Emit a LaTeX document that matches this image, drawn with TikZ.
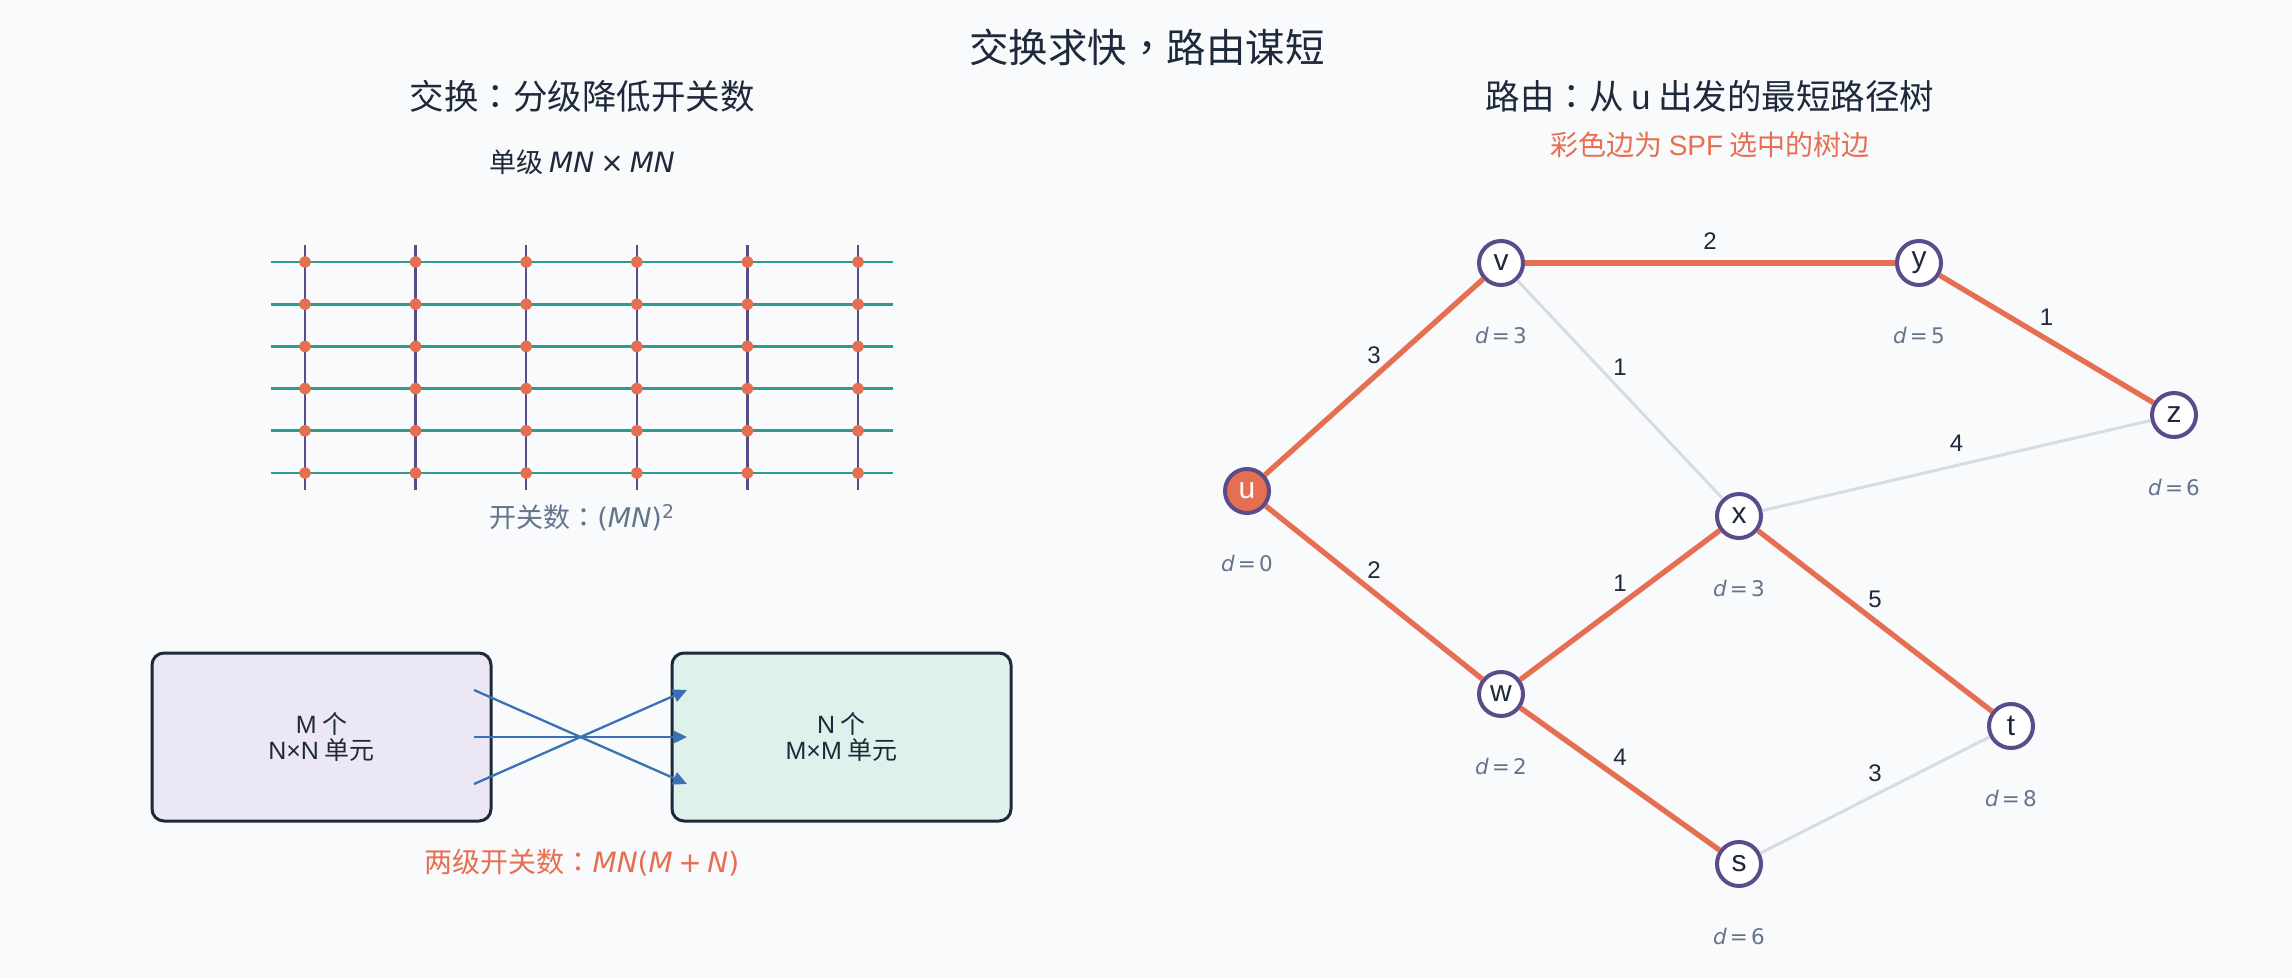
\documentclass[tikz,border=0pt]{standalone}
\usepackage{fontspec}
\setmainfont{Noto Sans CJK SC}
\newfontfamily\tc{Noto Sans CJK TC}
\newfontfamily\lat{Liberation Sans}
\newfontfamily\dv{DejaVu Sans}
\usetikzlibrary{arrows.meta}
\definecolor{bg}{HTML}{F8FAFC}
\definecolor{ink}{HTML}{1E293B}
\definecolor{muted}{HTML}{64748B}
\definecolor{orng}{HTML}{E76F51}
\definecolor{tealc}{HTML}{2A9D8F}
\definecolor{purp}{HTML}{5B4B8A}
\definecolor{bluec}{HTML}{3B6FB6}
\definecolor{lav}{HTML}{ECE7F4}
\definecolor{mint}{HTML}{DEF2EC}
\definecolor{edgegray}{HTML}{D6DCE4}
\newcommand\fsz[1]{\fontsize{#1}{#1}\selectfont}
\newcommand\dd[1]{\itshape d\upshape\hspace{0.15em}=\hspace{0.15em}#1}
\tikzset{
  hline/.style={tealc, line width=2.7pt},
  vline/.style={purp, line width=2.3pt},
  xdot/.style={circle, fill=orng, inner sep=0pt, minimum size=11.5pt},
  ubox/.style={draw=ink, line width=3pt, rounded corners=12pt, minimum width=339pt, minimum height=168pt, align=center, text=ink, font=\fsz{25}},
  xarrow/.style={bluec, line width=2.3pt, -{Triangle[length=14pt,width=13pt]}},
  gnode/.style={circle, draw=purp, line width=4pt, fill=white, minimum size=44pt, inner sep=0pt, text=ink, font=\lat\fsz{30}},
  tree/.style={orng, line width=5.3pt},
  nontree/.style={edgegray, line width=3pt},
  elab/.style={midway, yshift=22pt, fill=bg, inner sep=1pt, text=ink, font=\lat\fsz{24}},
  dlab/.style={text=muted, font=\dv\fsz{21.5}},
}
\begin{document}
\begin{tikzpicture}[x=1pt,y=-1pt]
\fill[bg] (0,0) rectangle (2292,978);
\useasboundingbox (0,0) rectangle (2292,978);

% titles
\node[text=ink, font=\fsz{39.5}] (title) at (1147,47) {交换求快{\tc ，}路由谋短};
\node[text=ink, font=\fsz{34.5}] (lt) at (582,96) {交换{\tc ：}分级降低开关数};
\node[text=ink, font=\fsz{27}] (lsub) at (582,162) {单级 {\dv\fsz{28}\itshape MN} {\dv\fsz{28}×} {\dv\fsz{28}\itshape MN}};

% crossbar grid
\foreach \j in {0,...,5}
  \draw[hline] (270.8,262+\j*42.2) -- (893.3,262+\j*42.2);
\foreach \i in {0,...,5}
  \draw[vline] (305+\i*110.6,245) -- (305+\i*110.6,490);
\foreach \i in {0,...,5}
  \foreach \j in {0,...,5}
    \node[xdot] at (305+\i*110.6,262+\j*42.2) {};
\node[text=muted, font=\fsz{27}] (gcap) at (582,518) {开关数{\tc ：}{\dv(\itshape MN\upshape)\textsuperscript{2}}};

% two-stage
\node[ubox, fill=lav] (s1) at (321.5,737) {{\lat M} 个\\[1pt]{\lat N×N} 单元};
\node[ubox, fill=mint] (s2) at (841.5,737) {{\lat N} 个\\[1pt]{\lat M×M} 单元};
\coordinate (a1) at (474,690);
\coordinate (a2) at (474,737);
\coordinate (a3) at (474,784);
\coordinate (b1) at (687,690);
\coordinate (b2) at (687,737);
\coordinate (b3) at (687,784);
\draw[xarrow] (a1) -- (b3);
\draw[xarrow] (a2) -- (b2);
\draw[xarrow] (a3) -- (b1);
\node[text=orng, font=\fsz{28}] (tcap) at (582,863) {两级开关数{\tc ：}{\dv\itshape MN\upshape(\itshape M\upshape\hspace{0.2em}+\hspace{0.2em}\itshape N\upshape)}};

% routing
\node[text=ink, font=\fsz{34.5}] (rt) at (1710,96) {路由{\tc ：}从 {\lat u} 出发的最短路径树};
\node[text=orng, font=\fsz{28}] (rsub) at (1710,145) {彩色边为 {\lat SPF} 选中的树边};

\node[gnode, fill=orng, text=white] (u) at (1247,491) {u};
\node[gnode] (v) at (1501,263) {v};
\node[gnode] (y) at (1919,263) {y};
\node[gnode] (z) at (2174,415) {z};
\node[gnode] (x) at (1739,516) {x};
\node[gnode] (w) at (1501,694) {w};
\node[gnode] (t) at (2011,726) {t};
\node[gnode] (s) at (1739,864) {s};

\draw[nontree] (v) -- (x) node[elab] {1};
\draw[nontree] (x) -- (z) node[elab] {4};
\draw[nontree] (s) -- (t) node[elab] {3};
\draw[tree] (u) -- (v) node[elab] {3};
\draw[tree] (v) -- (y) node[elab] {2};
\draw[tree] (y) -- (z) node[elab] {1};
\draw[tree] (u) -- (w) node[elab] {2};
\draw[tree] (w) -- (x) node[elab] {1};
\draw[tree] (x) -- (t) node[elab] {5};
\draw[tree] (w) -- (s) node[elab] {4};

\node[dlab] (du) at (1247,563) {\dd{0}};
\node[dlab] (dv) at (1501,335) {\dd{3}};
\node[dlab] (dy) at (1919,335) {\dd{5}};
\node[dlab] (dz) at (2174,487) {\dd{6}};
\node[dlab] (dx) at (1739,588) {\dd{3}};
\node[dlab] (dw) at (1501,766) {\dd{2}};
\node[dlab] (dt) at (2011,798) {\dd{8}};
\node[dlab] (ds) at (1739,936) {\dd{6}};
\end{tikzpicture}
\end{document}
